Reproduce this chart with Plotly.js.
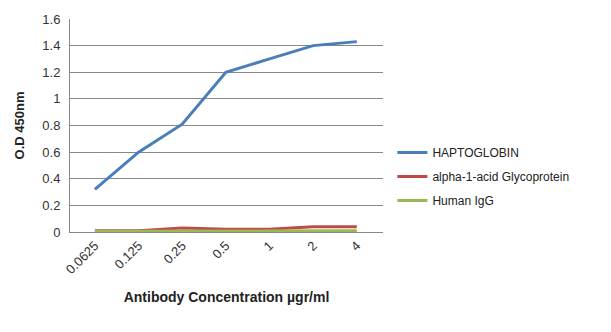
<!DOCTYPE html>
<html><head><meta charset="utf-8">
<script src="https://cdn.plot.ly/plotly-3.0.1.min.js"></script>
<style>html,body{margin:0;padding:0;background:#fff;}#c{width:611px;height:332px;}</style>
</head><body><div id="c"></div>
<script>
const categories = ["0.0625","0.125","0.25","0.5","1","2","4"];
const haptoglobin = [0.32, 0.60, 0.81, 1.20, 1.30, 1.40, 1.43];
const alphaGlyco = [0.01, 0.01, 0.03, 0.02, 0.02, 0.04, 0.04];
const humanIgG = [0.005, 0.005, 0.005, 0.005, 0.005, 0.005, 0.01];
const seriesNames = ["HAPTOGLOBIN","alpha-1-acid Glycoprotein","Human IgG"];
const colors = ["#4A7EBB","#BE4B48","#98B954"];
const vals = [haptoglobin, alphaGlyco, humanIgG];
const font = "Liberation Sans, Arial, sans-serif";
const traces = vals.map((v,i)=>({
  x: categories, y: v, type:"scatter", mode:"lines", name: seriesNames[i],
  line:{color:colors[i], width:3}, legendgroup:"g"+i
}));
const layout = {
  width:611, height:332,
  margin:{l:70, r:228, t:19, b:100},
  paper_bgcolor:"#fff", plot_bgcolor:"#fff",
  font:{family:font, size:12, color:"#333"},
  showlegend:true,
  legend:{x:1.03, y:0.26, xanchor:"left", yanchor:"middle", font:{family:font,size:12,color:"#222"}, tracegroupgap:5, bgcolor:"rgba(0,0,0,0)"},
  xaxis:{type:"category", range:[-0.57, 6.6], tickangle:-45, showgrid:false, showline:true, linecolor:"#888", linewidth:1,
    ticks:"", tickfont:{family:font,size:13,color:"#333"},
    title:{text:"<b>Antibody Concentration µgr/ml</b>", font:{family:font,size:14,color:"#222"}, standoff:16}},
  yaxis:{range:[0,1.6], dtick:0.2, showgrid:true, gridcolor:"#888", gridwidth:1,
    showline:true, linecolor:"#888", linewidth:1, zeroline:true, zerolinecolor:"#888", ticks:"",
    tickfont:{family:font,size:13,color:"#333"}, ticklabelstandoff:6,
    title:{text:"<b>O.D 450nm</b>", font:{family:font,size:13,color:"#222"}, standoff:14}}
};
Plotly.newPlot("c", traces, layout, {displayModeBar:false, staticPlot:true});
</script></body></html>
